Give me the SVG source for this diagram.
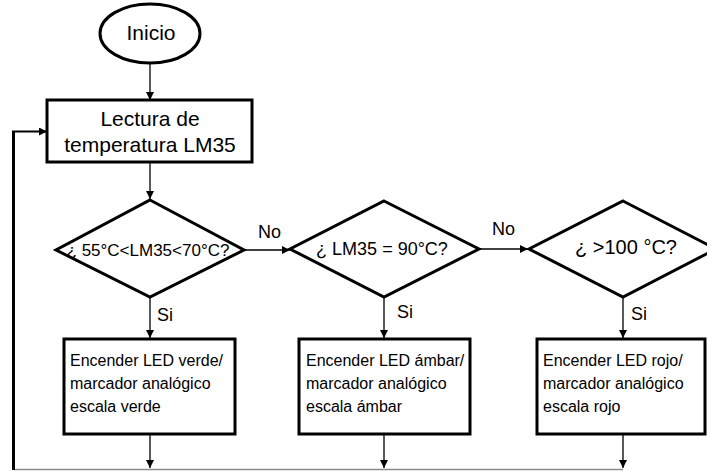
<svg xmlns="http://www.w3.org/2000/svg" width="707" height="471" viewBox="0 0 707 471">
  <style>
    .shape { fill: #ffffff; stroke: #000000; stroke-width: 3; }
    .conn { fill: none; stroke: #000000; stroke-width: 1.3; }
    .txt { font-family: "Liberation Sans", Arial, sans-serif; fill: #000000; }
    .big { font-size: 21px; text-anchor: middle; }
    .box { font-size: 16px; }
    .lbl { font-size: 18px; }
  </style>
  <defs>
    <marker id="arrow" markerUnits="userSpaceOnUse" markerWidth="10" markerHeight="10" refX="8" refY="4" orient="auto">
      <path d="M0,0 L8,4 L0,8 Z" fill="#000000"/>
    </marker>
  </defs>

  <!-- connectors -->
  <g id="connectors">
    <line class="conn" x1="150" y1="63" x2="150" y2="100" marker-end="url(#arrow)"/>
    <line class="conn" x1="150" y1="162" x2="150" y2="199" marker-end="url(#arrow)"/>
    <line class="conn" x1="244" y1="250" x2="290" y2="250" marker-end="url(#arrow)"/>
    <line class="conn" x1="479" y1="249" x2="528" y2="249" marker-end="url(#arrow)"/>
    <line class="conn" x1="150" y1="297" x2="150" y2="338" marker-end="url(#arrow)"/>
    <line class="conn" x1="384" y1="297" x2="384" y2="338" marker-end="url(#arrow)"/>
    <line class="conn" x1="623" y1="297" x2="623" y2="338" marker-end="url(#arrow)"/>
    <line class="conn" x1="150" y1="434" x2="150" y2="468" marker-end="url(#arrow)"/>
    <line class="conn" x1="384" y1="434" x2="384" y2="468" marker-end="url(#arrow)"/>
    <line class="conn" x1="623" y1="434" x2="623" y2="468" marker-end="url(#arrow)"/>
    <!-- return path to the reading step -->
    <line x1="14" y1="469.5" x2="623" y2="469.5" stroke="#8c8c8c" stroke-width="1.5"/>
    <line x1="13.5" y1="470" x2="13.5" y2="131.5" stroke="#000000" stroke-width="3"/>
    <line x1="12" y1="131.5" x2="47" y2="131.5" stroke="#000000" stroke-width="2" marker-end="url(#arrow)"/>
    <text class="txt lbl" x="258" y="238">No</text>
    <text class="txt lbl" x="492" y="235">No</text>
    <text class="txt lbl" x="157" y="321">Si</text>
    <text class="txt lbl" x="397" y="318">Si</text>
    <text class="txt lbl" x="631" y="320">Si</text>
  </g>

  <g id="inicio">
    <ellipse class="shape" cx="150" cy="33.5" rx="50" ry="29.5" stroke-width="2.5"/>
    <text class="txt big" x="151" y="40">Inicio</text>
  </g>

  <g id="lectura">
    <rect class="shape" x="47" y="100" width="205" height="62"/>
    <text class="txt big" x="150" y="126">Lectura de</text>
    <text class="txt big" x="150" y="152">temperatura LM35</text>
  </g>

  <g id="cond1">
    <polygon class="shape" points="150,200 244,250 150,297 56,250"/>
    <text class="txt" x="148" y="256" font-size="17" text-anchor="middle">¿ 55°C&lt;LM35&lt;70°C?</text>
  </g>

  <g id="cond2">
    <polygon class="shape" points="384,201 479,249 384,297 290,249"/>
    <text class="txt" x="382" y="255" font-size="18" text-anchor="middle">¿ LM35 = 90°C?</text>
  </g>

  <g id="cond3">
    <polygon class="shape" points="623,201 716,249 623,297 529,249"/>
    <text class="txt" x="626" y="254" font-size="20" text-anchor="middle">¿ &gt;100 °C?</text>
  </g>

  <g id="verde">
    <rect class="shape" x="64" y="339" width="171" height="95"/>
    <text class="txt box" x="70" y="366">Encender LED verde/</text>
    <text class="txt box" x="70" y="389">marcador analógico</text>
    <text class="txt box" x="70" y="412">escala verde</text>
  </g>

  <g id="ambar">
    <rect class="shape" x="299" y="339" width="171" height="95"/>
    <text class="txt box" x="306" y="366">Encender LED ámbar/</text>
    <text class="txt box" x="306" y="389">marcador analógico</text>
    <text class="txt box" x="306" y="412">escala ámbar</text>
  </g>

  <g id="rojo">
    <rect class="shape" x="537" y="339" width="168" height="95"/>
    <text class="txt box" x="543" y="366">Encender LED rojo/</text>
    <text class="txt box" x="543" y="389">marcador analógico</text>
    <text class="txt box" x="543" y="412">escala rojo</text>
  </g>
</svg>
